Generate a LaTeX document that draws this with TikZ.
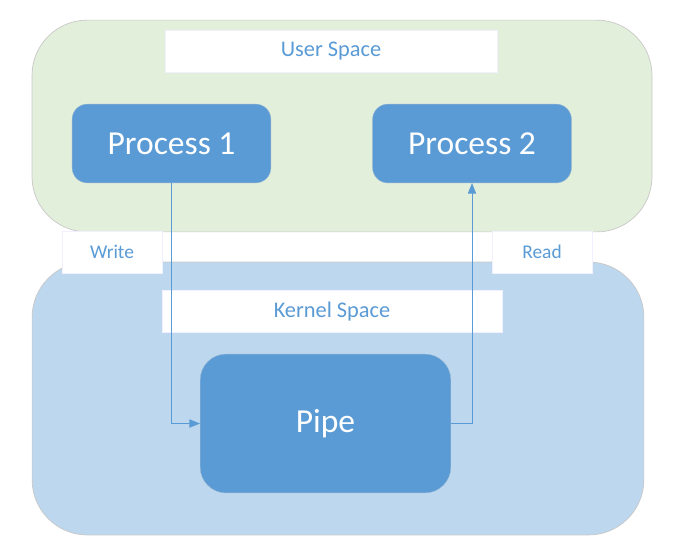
\documentclass[tikz,border=0pt]{standalone}
\usepackage{fontspec}
\setmainfont{Carlito}
\usetikzlibrary{arrows.meta}

\definecolor{userfill}{HTML}{E2EFDA}
\definecolor{kernfill}{HTML}{BDD7EE}
\definecolor{procfill}{HTML}{5B9BD5}
\definecolor{edgegray}{HTML}{C8C8C8}

\tikzset{
  space/.style={draw=edgegray, line width=0.6pt, rounded corners=47pt},
  spacelabel/.style={fill=white, draw=blue!6, text=procfill, font=\fontsize{19}{22}\selectfont,
    minimum height=36pt, inner sep=0pt},
  sidelabel/.style={spacelabel, font=\fontsize{16.5}{20}\selectfont, minimum width=85pt},
  procbox/.style={fill=procfill, draw=procfill!85!black!60, line width=0.3pt, text=white,
    font=\fontsize{28.5}{32}\selectfont, inner sep=0pt},
  flow/.style={draw=procfill, line width=0.8pt, -{Triangle[length=9pt,width=7pt]}}
}

\begin{document}
\begin{tikzpicture}[x=0.85pt,y=-0.85pt]
\useasboundingbox (0,0) rectangle (674,553);
% the two spaces
\node[space, fill=userfill, minimum width=527pt, minimum height=180pt] (user) at (342,126) {};
\node[space, fill=kernfill, minimum width=520pt, minimum height=232pt] (kernel) at (338,398.5) {};
% labels
\node[spacelabel, minimum width=282pt] (userlbl) at (331,51) {User Space};
\node[spacelabel, minimum width=289pt] (kernlbl) at (332,311.5) {Kernel Space};
\node[sidelabel] (write) at (112,252) {Write};
\node[sidelabel] (read) at (542,252) {Read};
% processes and pipe
\node[procbox, rounded corners=13pt, minimum width=169pt, minimum height=67pt] (p1) at (171.5,143.5) {Process 1};
\node[procbox, rounded corners=13pt, minimum width=169pt, minimum height=67pt] (p2) at (472,143.5) {Process 2};
\node[procbox, rounded corners=22pt, minimum width=213pt, minimum height=118pt] (pipe) at (325.5,423.5) {Pipe};
% data flow
\draw[flow] (p1.south) |- (pipe.west);
\draw[flow] (pipe.east) -| (p2.south);
\end{tikzpicture}
\end{document}
